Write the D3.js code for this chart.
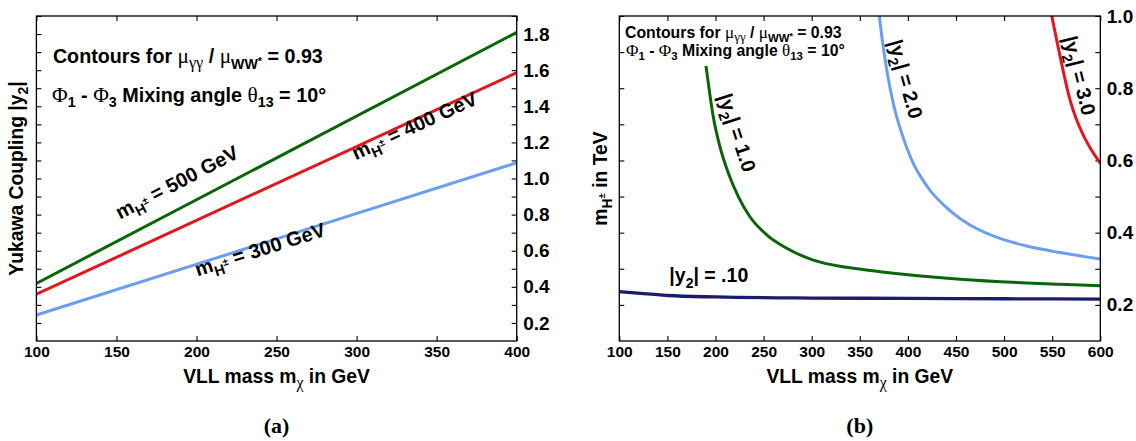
<!DOCTYPE html>
<html>
<head>
<meta charset="utf-8">
<script src="https://cdn.jsdelivr.net/npm/d3@7"></script>
<style>
    body { margin: 0; background: #fff; }
    svg text { font-family: "Liberation Sans", Arial, Helvetica, sans-serif; font-weight: bold; fill: #000; }
    svg text .gr { font-family: "Liberation Serif", "Times New Roman", serif; font-weight: normal; }
</style>
</head>
<body>
<svg id="chart" width="1136" height="441"></svg>
<script>
// ---- panel (a): |y2| vs VLL mass, straight contours ----
const massA = [100, 400];
const y500 = [0.419, 1.809];
const y400 = [0.359, 1.586];
const y300 = [0.244, 1.087];
const xTicksA = [100, 150, 200, 250, 300, 350, 400];
const yLabelsA = [0.2, 0.4, 0.6, 0.8, 1.0, 1.2, 1.4, 1.6, 1.8];

// ---- panel (b): m_H+ (TeV) vs VLL mass, contours of |y2| ----
const mchi01 = [100, 125, 150, 200, 300, 400, 500, 600];
const mh01 = [0.237, 0.231, 0.226, 0.222, 0.219, 0.218, 0.217, 0.216];
const mchi10 = [190.1, 194.3, 197.7, 204.6, 213.3, 223.7, 235.8, 253.2, 274, 301.7, 336.4, 371.1, 454.2, 558.2, 600];
const mh10 = [0.862, 0.780, 0.721, 0.638, 0.565, 0.500, 0.444, 0.394, 0.357, 0.324, 0.304, 0.292, 0.271, 0.257, 0.253];
const mchi20 = [370.3, 373.8, 378, 384.8, 393.6, 404, 419.5, 445.5, 464.6, 495.7, 523.5, 558.2, 600];
const mh20 = [1.0, 0.925, 0.851, 0.758, 0.675, 0.601, 0.530, 0.457, 0.421, 0.384, 0.363, 0.345, 0.327];
const mchi30 = [549.5, 558.2, 568.5, 582.3, 591, 600];
const mh30 = [1.0, 0.888, 0.768, 0.670, 0.628, 0.592];
const xTicksB = [100, 150, 200, 250, 300, 350, 400, 450, 500, 550, 600];
const yLabelsB = [0.2, 0.4, 0.6, 0.8, 1.0];

const svg = d3.select("#chart");

// rich text: [string, kind] pieces, kinds n / g (greek) / sub / gsub / sup (on a subscript) / star
function rich(sel, parts, size) {
    let cur = 0;
    parts.forEach(function (p) {
        let off = 0, fs = size, greek = false;
        if (p[1] == "g") { greek = true; fs = size * 1.08; }
        if (p[1] == "sub") { off = 0.28 * size; fs = 0.72 * size; }
        if (p[1] == "gsub") { off = 0.22 * size; fs = 0.82 * size; greek = true; }
        if (p[1] == "sup") { off = -0.1 * size; fs = 0.5 * size; }
        if (p[1] == "star") { off = 0.1 * size; fs = 0.55 * size; }
        const t = sel.append("tspan")
            .attr("dy", (off - cur).toFixed(2))
            .attr("font-size", fs.toFixed(2))
            .text(p[0]);
        if (greek) t.attr("class", "gr");
        cur = off;
    })
    return sel;
}

function panel(cfg) {
    const g = svg.append("g");
    const x = d3.scaleLinear().domain(cfg.xDomain).range(cfg.xRange);
    const y = d3.scaleLinear().domain(cfg.yDomain).range([341, 16]);
    const minor = d3.range(Math.round(cfg.yDomain[0] * 10) + 1, Math.round(cfg.yDomain[1] * 10) + 1).map(i => i / 10);

    const clipId = "clip" + cfg.name;
    g.append("clipPath").attr("id", clipId)
        .append("rect")
        .attr("x", cfg.xRange[0]).attr("y", 16)
        .attr("width", cfg.xRange[1] - cfg.xRange[0]).attr("height", 325);

    // ticks (inward) on all four sides
    const bottom = g.append("g").attr("transform", "translate(0,341)")
        .call(d3.axisBottom(x).tickValues(cfg.xTicks).tickSize(-5).tickPadding(5).tickFormat(d3.format("d")));
    bottom.selectAll("text").attr("font-size", 15.5);
    g.append("g").attr("transform", "translate(0,16)")
        .call(d3.axisTop(x).tickValues(cfg.xTicks).tickSize(-5).tickFormat(""));
    g.append("g").attr("transform", "translate(" + cfg.xRange[0] + ",0)")
        .call(d3.axisLeft(y).tickValues(minor).tickSize(-5).tickFormat(""));
    const right = g.append("g").attr("transform", "translate(" + cfg.xRange[1] + ",0)")
        .call(d3.axisRight(y).tickValues(minor).tickSize(-5).tickPadding(6.5)
            .tickFormat(d => cfg.yLabels.some(v => Math.abs(v - d) < 1e-6) ? d3.format(".1f")(d) : ""));
    right.selectAll("text").attr("font-size", 19);
    g.selectAll(".domain").remove();
    g.selectAll(".tick line").attr("stroke", "#000").attr("stroke-width", 1.1);

    // curves
    const line = d3.line().x(d => x(d[0])).y(d => y(d[1])).curve(d3.curveMonotoneX);
    cfg.series.forEach(function (s) {
        g.append("path")
            .datum(d3.zip(s.xs, s.ys))
            .attr("clip-path", "url(#" + clipId + ")")
            .attr("fill", "none")
            .attr("stroke", s.color)
            .attr("stroke-width", s.width || 3)
            .attr("d", line);
    })

    // frame
    g.append("rect")
        .attr("x", cfg.xRange[0]).attr("y", 16)
        .attr("width", cfg.xRange[1] - cfg.xRange[0]).attr("height", 325)
        .attr("fill", "none").attr("stroke", "#000").attr("stroke-width", 1.3);

    // curve labels
    cfg.labels.forEach(function (l) {
        let ang = l.angle;
        if (l.along) {
            const s = l.along;
            const dx = x(s.xs[s.xs.length - 1]) - x(s.xs[0]);
            const dy = y(s.ys[s.ys.length - 1]) - y(s.ys[0]);
            ang = Math.atan2(dy, dx) * 180 / Math.PI;
        }
        const t = g.append("text")
            .attr("transform", "translate(" + x(l.at[0]) + "," + y(l.at[1]) + ") rotate(" + ang + ")")
            .attr("text-anchor", "middle")
            .attr("dy", "0.35em");
        rich(t, l.parts, l.size);
    })

    // annotation text
    cfg.notes.forEach(function (n) {
        const t = g.append("text").attr("x", n.x).attr("y", n.y);
        rich(t, n.parts, n.size);
    })

    // axis titles
    const cx = (cfg.xRange[0] + cfg.xRange[1]) / 2;
    rich(g.append("text").attr("x", cx).attr("y", 383.3).attr("text-anchor", "middle"),
        [["VLL mass m", "n"], ["χ", "gsub"], [" in GeV", "n"]], 19.3);
    rich(g.append("text").attr("transform", "translate(" + cfg.yTitleX + ",178.5) rotate(-90)")
        .attr("text-anchor", "middle"), cfg.yTitle, 19.3);

    g.append("text")
        .attr("x", cx).attr("y", 433)
        .attr("text-anchor", "middle")
        .style("font-family", "'Liberation Serif', 'Times New Roman', serif")
        .attr("font-size", 22)
        .text(cfg.letter);
}

const mH = (txt) => [["m", "n"], ["H", "sub"], ["±", "sup"], [txt, "n"]];
const contours = [["Contours for ", "n"], ["μ", "g"], ["γγ", "gsub"], [" / ", "n"], ["μ", "g"], ["WW", "sub"], ["*", "star"], [" = 0.93", "n"]];
const mixing = [["Φ", "g"], ["1", "sub"], [" - ", "n"], ["Φ", "g"], ["3", "sub"], [" Mixing angle ", "n"], ["θ", "g"], ["13", "sub"], [" = 10°", "n"]];

const sA500 = { xs: massA, ys: y500, color: "#086608" };
const sA400 = { xs: massA, ys: y400, color: "#e3161e" };
const sA300 = { xs: massA, ys: y300, color: "#6a9ef0" };

panel({
    name: "a",
    xDomain: [100, 400], xRange: [36.4, 516.7],
    yDomain: [0.1, 1.9],
    xTicks: xTicksA, yLabels: yLabelsA,
    series: [sA500, sA400, sA300],
    labels: [
        { at: [189.75, 0.945], along: sA500, parts: mH(" = 500 GeV"), size: 20 },
        { at: [337.9, 1.258], along: sA400, parts: mH(" = 400 GeV"), size: 20 },
        { at: [241, 0.571], along: sA300, parts: mH(" = 300 GeV"), size: 20 }
    ],
    notes: [
        { x: 52.9, y: 63.3, parts: contours, size: 19.7 },
        { x: 52, y: 101.7, parts: mixing, size: 19.8 }
    ],
    yTitle: [["Yukawa Coupling |y", "n"], ["2", "sub"], ["|", "n"]],
    yTitleX: 23,
    letter: "(a)"
});

const y2 = (txt) => [["|y", "n"], ["2", "sub"], ["|" + txt, "n"]];

panel({
    name: "b",
    xDomain: [100, 600], xRange: [619.3, 1100.3],
    yDomain: [0.1, 1.0],
    xTicks: xTicksB, yLabels: yLabelsB,
    series: [
        { xs: mchi01, ys: mh01, color: "#1c1c6e", width: 3.3 },
        { xs: mchi10, ys: mh10, color: "#086608" },
        { xs: mchi20, ys: mh20, color: "#6a9ef0" },
        { xs: mchi30, ys: mh30, color: "#e3161e" }
    ],
    labels: [
        { at: [215.7, 0.671], angle: 72, parts: y2(" = 1.0"), size: 20 },
        { at: [390.7, 0.820], angle: 74.5, parts: y2(" = 2.0"), size: 20 },
        { at: [571.3, 0.830], angle: 76, parts: y2(" = 3.0"), size: 20 },
        { at: [193, 0.263], angle: 0, parts: y2(" = .10"), size: 19.5 }
    ],
    notes: [
        { x: 625, y: 37.8, parts: contours, size: 15.8 },
        { x: 626, y: 55.5, parts: mixing, size: 15.8 }
    ],
    yTitle: mH(" in TeV"),
    yTitleX: 606.5,
    letter: "(b)"
});
</script>
</body>
</html>
